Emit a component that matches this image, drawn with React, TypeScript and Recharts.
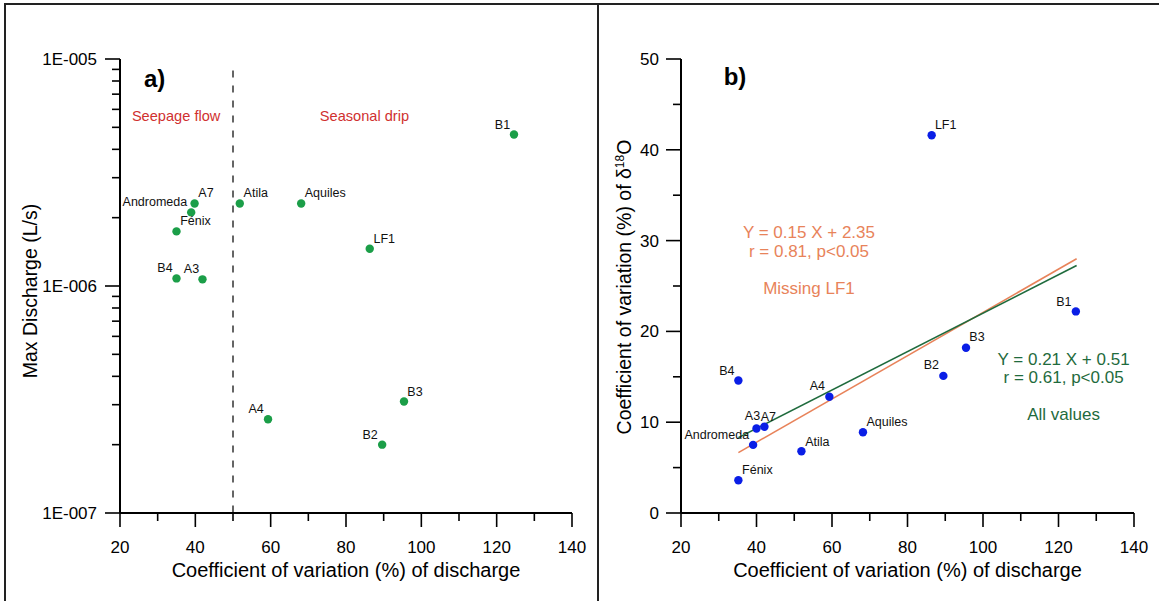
import React from 'react';
import { ScatterChart, Scatter, XAxis, YAxis, ReferenceLine } from 'recharts';

// ---------------- Panel a) : Max discharge vs CV of discharge ----------------
const sitesA = ['B1', 'A7', 'Andromeda', 'Fénix', 'B4', 'A3', 'Atila', 'Aquiles', 'LF1', 'A4', 'B3', 'B2'];
const cvDischargeA = [124.6, 39.8, 38.9, 35.0, 35.0, 41.9, 51.8, 68.1, 86.3, 59.3, 95.4, 89.6];
const maxDischarge = [4.65e-6, 2.31e-6, 2.11e-6, 1.74e-6, 1.08e-6, 1.07e-6, 2.31e-6, 2.31e-6, 1.46e-6, 2.59e-7, 3.1e-7, 2.0e-7];

const dividerX = 50;
const dividerTop = 8.9e-6;
const dividerBottom = 1e-7;

const annotTextA = ['a)', 'Seepage flow', 'Seasonal drip'];
const annotXA = [29.2, 34.9, 84.9];
const annotYA = [8.23e-6, 5.64e-6, 5.64e-6];

// ---------------- Panel b) : CV of d18O vs CV of discharge ----------------
const sitesB = ['LF1', 'B1', 'B3', 'B2', 'B4', 'A4', 'A3', 'A7', 'Andromeda', 'Aquiles', 'Atila', 'Fénix'];
const cvDischargeB = [86.4, 124.6, 95.5, 89.5, 35.2, 59.3, 40.0, 42.1, 39.1, 68.2, 51.9, 35.2];
const cvD18O = [41.6, 22.2, 18.2, 15.1, 14.6, 12.8, 9.3, 9.5, 7.5, 8.9, 6.8, 3.6];

const fitAllX = [35.2, 124.8];
const fitAllY = [8.3, 27.25];
const fitMissingX = [35.2, 124.8];
const fitMissingY = [6.65, 28.0];

const annotTextB = ['b)', 'Y = 0.15 X + 2.35', 'r = 0.81, p<0.05', 'Missing LF1', 'Y = 0.21 X + 0.51', 'r = 0.61, p<0.05', 'All values'];
const annotXB = [34.3, 53.9, 53.9, 53.9, 121.35, 121.35, 121.35];
const annotYB = [48.1, 30.9, 28.8, 24.8, 17.0, 15.0, 10.9];

// ---------------- Ticks ----------------
const xTicks = [20, 30, 40, 50, 60, 70, 80, 90, 100, 110, 120, 130, 140];
const yTicksA = [
  1e-7, 2e-7, 3e-7, 4e-7, 5e-7, 6e-7, 7e-7, 8e-7, 9e-7,
  1e-6, 2e-6, 3e-6, 4e-6, 5e-6, 6e-6, 7e-6, 8e-6, 9e-6,
  1e-5,
];
const yTicksB = [0, 5, 10, 15, 20, 25, 30, 35, 40, 45, 50];

const xTitle = 'Coefficient of variation (%) of discharge';
const yTitleA = 'Max Discharge (L/s)';

// ---------------- Styles ----------------
const FONT = '"Liberation Sans", Arial, Helvetica, sans-serif';
const GREEN_PT = '#1b9e48';
const BLUE_PT = '#0a1ee6';
const ORANGE = '#e8835a';
const DKGREEN = '#1f6b3d';
const RED = '#d0302f';

type Place = [number, number, 'start' | 'middle' | 'end'];

const placeA: Record<string, Place> = {
  B1: [-11.5, -10.3, 'middle'],
  A7: [11.4, -11, 'middle'],
  Andromeda: [-4, -11, 'end'],
  'Fénix': [19, -10.5, 'middle'],
  B4: [-11.5, -10.7, 'middle'],
  A3: [-11, -10.6, 'middle'],
  Atila: [16, -10.7, 'middle'],
  Aquiles: [24, -10.7, 'middle'],
  LF1: [14.5, -10.3, 'middle'],
  A4: [-12, -10.3, 'middle'],
  B3: [11, -10.3, 'middle'],
  B2: [-12, -10.3, 'middle'],
};

const placeB: Record<string, Place> = {
  LF1: [14, -10.5, 'middle'],
  B1: [-12, -10, 'middle'],
  B3: [11, -11, 'middle'],
  B2: [-12, -11, 'middle'],
  B4: [-11.5, -10, 'middle'],
  A4: [-12, -11, 'middle'],
  A3: [-4, -13, 'middle'],
  A7: [4, -10, 'middle'],
  Andromeda: [-4, -10.5, 'end'],
  Aquiles: [24, -10.5, 'middle'],
  Atila: [16, -10, 'middle'],
  'Fénix': [19, -11, 'middle'],
};

const annotStyle: Record<string, { size: number; color: string; weight?: number }> = {
  'a)': { size: 24, color: '#000', weight: 700 },
  'b)': { size: 24, color: '#000', weight: 700 },
  'Seepage flow': { size: 14.6, color: RED },
  'Seasonal drip': { size: 14.6, color: RED },
  'Y = 0.15 X + 2.35': { size: 17, color: ORANGE },
  'r = 0.81, p<0.05': { size: 17, color: ORANGE },
  'Missing LF1': { size: 17, color: ORANGE },
  'Y = 0.21 X + 0.51': { size: 17, color: DKGREEN },
  'r = 0.61, p<0.05': { size: 17, color: DKGREEN },
  'All values': { size: 17, color: DKGREEN },
};

// ---------------- Derived tables ----------------
const ptsA = sitesA.map((name, i) => ({ name, x: cvDischargeA[i], y: maxDischarge[i] }));
const ptsB = sitesB.map((name, i) => ({ name, x: cvDischargeB[i], y: cvD18O[i] }));
const annA = annotTextA.map((text, i) => ({ text, x: annotXA[i], y: annotYA[i] }));
const annB = annotTextB.map((text, i) => ({ text, x: annotXB[i], y: annotYB[i] }));
const fitAll = fitAllX.map((x, i) => ({ x, y: fitAllY[i] }));
const fitMissing = fitMissingX.map((x, i) => ({ x, y: fitMissingY[i] }));

// ---------------- Renderers ----------------
function makeSiteShape(fill: string, place: Record<string, Place>) {
  return (props: any) => {
    const { cx, cy, payload } = props;
    const p = place[payload.name] || [0, -10, 'middle'];
    return (
      <g>
        <circle cx={cx} cy={cy} r={4.2} fill={fill} />
        <text
          x={cx + p[0]}
          y={cy + p[1]}
          dy="0.35em"
          textAnchor={p[2]}
          fontSize={12.5}
          fill="#111"
          fontFamily={FONT}
        >
          {payload.name}
        </text>
      </g>
    );
  };
}

const annotShape = (props: any) => {
  const { cx, cy, payload } = props;
  const s = annotStyle[payload.text];
  return (
    <text
      x={cx}
      y={cy}
      dy="0.35em"
      textAnchor="middle"
      fontSize={s.size}
      fontWeight={s.weight || 400}
      fill={s.color}
      fontFamily={FONT}
    >
      {payload.text}
    </text>
  );
};

const noShape = () => <g />;

const XTick = (p: any) => {
  const { x, y, payload } = p;
  const v = payload.value;
  const major = v % 20 === 0;
  return (
    <g>
      <line x1={x} x2={x} y1={y} y2={y + (major ? 14 : 8)} stroke="#000" strokeWidth={1.6} />
      {major && (
        <text x={x} y={y + 34} dy="0.35em" textAnchor="middle" fontSize={17} fill="#000" fontFamily={FONT}>
          {v}
        </text>
      )}
    </g>
  );
};

const fmtLog = (v: number) => {
  const e = Math.round(Math.log10(v));
  const sign = e < 0 ? '-' : '+';
  return '1E' + sign + String(Math.abs(e)).padStart(3, '0');
};

const YTickLog = (p: any) => {
  const { x, y, payload } = p;
  const v = payload.value;
  const e = Math.log10(v);
  const major = Math.abs(e - Math.round(e)) < 1e-6;
  return (
    <g>
      <line x1={x} x2={x - (major ? 15 : 8)} y1={y} y2={y} stroke="#000" strokeWidth={1.6} />
      {major && (
        <text x={x - 23} y={y} dy="0.35em" textAnchor="end" fontSize={17} fill="#000" fontFamily={FONT}>
          {fmtLog(v)}
        </text>
      )}
    </g>
  );
};

const YTickLin = (p: any) => {
  const { x, y, payload } = p;
  const v = payload.value;
  const major = v % 10 === 0;
  return (
    <g>
      <line x1={x} x2={x - (major ? 15 : 8)} y1={y} y2={y} stroke="#000" strokeWidth={1.6} />
      {major && (
        <text x={x - 22} y={y} dy="0.35em" textAnchor="end" fontSize={17} fill="#000" fontFamily={FONT}>
          {v}
        </text>
      )}
    </g>
  );
};

const axisLine = { stroke: '#000', strokeWidth: 2 };

export default function App() {
  return (
    <div
      style={{
        position: 'absolute',
        left: 0,
        top: 0,
        width: 1159,
        height: 601,
        background: '#fff',
        overflow: 'hidden',
        fontFamily: FONT,
      }}
    >
      {/* Panel a */}
      <div style={{ position: 'absolute', left: 0, top: 0 }}>
        <ScatterChart width={597} height={601} margin={{ top: 59, right: 25, bottom: 0, left: 0 }}>
          <XAxis
            dataKey="x"
            type="number"
            domain={[20, 140]}
            ticks={xTicks}
            interval={0}
            tickLine={false}
            tickSize={0}
            tickMargin={0}
            axisLine={axisLine}
            tick={(p: any) => <XTick {...p} />}
            height={88}
            allowDataOverflow
          />
          <YAxis
            dataKey="y"
            type="number"
            scale="log"
            domain={[1e-7, 1e-5]}
            ticks={yTicksA}
            interval={0}
            tickLine={false}
            tickSize={0}
            tickMargin={0}
            axisLine={axisLine}
            tick={(p: any) => <YTickLog {...p} />}
            width={120}
            allowDataOverflow
          />
          <ReferenceLine
            segment={[
              { x: dividerX, y: dividerTop },
              { x: dividerX, y: dividerBottom },
            ]}
            stroke="#333"
            strokeWidth={1.5}
            strokeDasharray="7 8"
          />
          <Scatter data={annA} shape={annotShape} isAnimationActive={false} />
          <Scatter data={ptsA} shape={makeSiteShape(GREEN_PT, placeA)} isAnimationActive={false} />
        </ScatterChart>
      </div>

      {/* Panel b */}
      <div style={{ position: 'absolute', left: 597, top: 0 }}>
        <ScatterChart width={562} height={601} margin={{ top: 59, right: 25, bottom: 0, left: 0 }}>
          <XAxis
            dataKey="x"
            type="number"
            domain={[20, 140]}
            ticks={xTicks}
            interval={0}
            tickLine={false}
            tickSize={0}
            tickMargin={0}
            axisLine={axisLine}
            tick={(p: any) => <XTick {...p} />}
            height={88}
            allowDataOverflow
          />
          <YAxis
            dataKey="y"
            type="number"
            domain={[0, 50]}
            ticks={yTicksB}
            interval={0}
            tickLine={false}
            tickSize={0}
            tickMargin={0}
            axisLine={axisLine}
            tick={(p: any) => <YTickLin {...p} />}
            width={84}
            allowDataOverflow
          />
          <Scatter data={annB} shape={annotShape} isAnimationActive={false} />
          <Scatter data={fitMissing} line={{ stroke: ORANGE, strokeWidth: 1.6 }} shape={noShape} isAnimationActive={false} />
          <Scatter data={fitAll} line={{ stroke: DKGREEN, strokeWidth: 1.6 }} shape={noShape} isAnimationActive={false} />
          <Scatter data={ptsB} shape={makeSiteShape(BLUE_PT, placeB)} isAnimationActive={false} />
        </ScatterChart>
      </div>

      {/* Axis titles */}
      <svg
        width={1159}
        height={601}
        style={{ position: 'absolute', left: 0, top: 0, pointerEvents: 'none' }}
      >
        <text x={346} y={570} dy="0.35em" textAnchor="middle" fontSize={20} fill="#000" fontFamily={FONT}>
          {xTitle}
        </text>
        <text x={907.5} y={570} dy="0.35em" textAnchor="middle" fontSize={20} fill="#000" fontFamily={FONT}>
          {xTitle}
        </text>
        <text
          transform="translate(30,291) rotate(-90)"
          x={0}
          y={0}
          dy="0.35em"
          textAnchor="middle"
          fontSize={19.5}
          fill="#000"
          fontFamily={FONT}
        >
          {yTitleA}
        </text>
        <text
          transform="translate(624,287) rotate(-90)"
          x={0}
          y={0}
          dy="0.35em"
          textAnchor="middle"
          fontSize={19.5}
          fill="#000"
          fontFamily={FONT}
        >
          Coefficient of variation (%) of δ
          <tspan dy={-7} fontSize={12}>18</tspan>
          <tspan dy={7}>O</tspan>
        </text>
      </svg>

      {/* Frame */}
      <div style={{ position: 'absolute', left: 4, top: 3, width: 1155, height: 2, background: '#222' }} />
      <div style={{ position: 'absolute', left: 4, top: 3, width: 2, height: 598, background: '#222' }} />
      <div style={{ position: 'absolute', left: 597, top: 3, width: 2, height: 598, background: '#222' }} />
    </div>
  );
}
